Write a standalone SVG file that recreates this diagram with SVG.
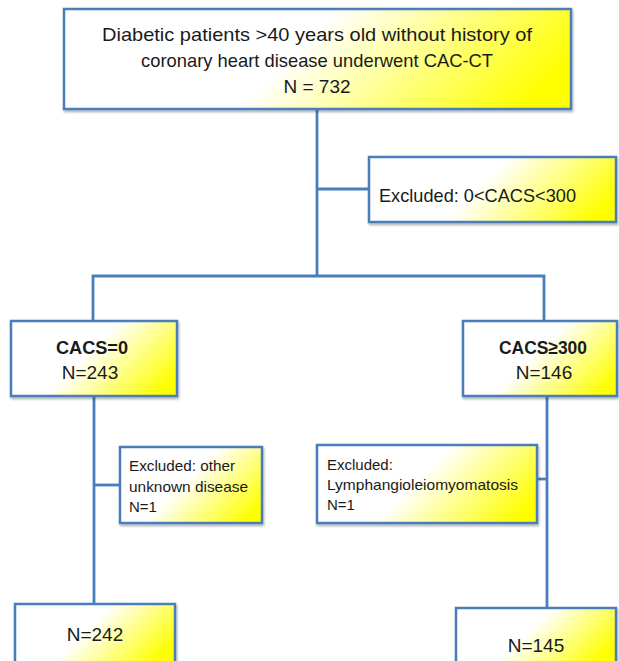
<svg xmlns="http://www.w3.org/2000/svg" xmlns:xlink="http://www.w3.org/1999/xlink" width="619" height="661" viewBox="0 0 619 661">
<style>
.box{stroke:#4a7ebb;stroke-width:2.5;filter:url(#sh)}
.con{stroke:#4a7ebb;stroke-width:2.8;fill:none}
text{font-family:"Liberation Sans",Arial,sans-serif;fill:#1a1a1a}
.m{font-size:19px}
.b{font-size:19px;font-weight:bold}
.s{font-size:15px}
.c{text-anchor:middle}
</style>
<defs>
<filter id="sh" x="-5%" y="-5%" width="115%" height="120%">
<feDropShadow dx="1" dy="2" stdDeviation="1.2" flood-color="#000" flood-opacity="0.3"/>
</filter>
<linearGradient id="gb">
<stop offset="0" stop-color="#ffffff"/>
<stop offset="0.45" stop-color="#ffffff"/>
<stop offset="0.92" stop-color="#ffff00"/>
</linearGradient>
<linearGradient id="g1" xlink:href="#gb" gradientUnits="userSpaceOnUse" x1="64" y1="9" x2="367" y2="312"/>
<linearGradient id="g2" xlink:href="#gb" gradientUnits="userSpaceOnUse" x1="369" y1="157" x2="524" y2="312"/>
<linearGradient id="g3" xlink:href="#gb" gradientUnits="userSpaceOnUse" x1="11" y1="321" x2="131" y2="441"/>
<linearGradient id="g4" xlink:href="#gb" gradientUnits="userSpaceOnUse" x1="463" y1="321" x2="578" y2="436"/>
<linearGradient id="g5" xlink:href="#gb" gradientUnits="userSpaceOnUse" x1="120" y1="447" x2="229" y2="556"/>
<linearGradient id="g6" xlink:href="#gb" gradientUnits="userSpaceOnUse" x1="317" y1="445" x2="466" y2="594"/>
<linearGradient id="g7" xlink:href="#gb" gradientUnits="userSpaceOnUse" x1="15" y1="604" x2="123" y2="712"/>
<linearGradient id="g8" xlink:href="#gb" gradientUnits="userSpaceOnUse" x1="456" y1="608" x2="562" y2="714"/>
</defs>
<g id="connectors">
<path class="con" d="M317 109 V276"/>
<path class="con" d="M317 189 H369"/>
<path class="con" d="M93 321 V276 H544 V321"/>
<path class="con" d="M94 396 V604"/>
<path class="con" d="M94 485 H120"/>
<path class="con" d="M547 396 V608"/>
<path class="con" d="M537 479 H547"/>
</g>
<g id="n-top">
<rect class="box" x="64" y="9" width="507" height="100" fill="url(#g1)"/>
<text class="m c" x="317" y="41" textLength="430" lengthAdjust="spacingAndGlyphs">Diabetic patients &gt;40 years old without history of</text>
<text class="m c" x="317" y="67" textLength="352" lengthAdjust="spacingAndGlyphs">coronary heart disease underwent CAC-CT</text>
<text class="m c" x="317" y="93">N = 732</text>
</g>
<g id="n-excl1">
<rect class="box" x="369" y="157" width="247" height="65" fill="url(#g2)"/>
<text class="m" x="379" y="202" textLength="197" lengthAdjust="spacingAndGlyphs">Excluded: 0&lt;CACS&lt;300</text>
</g>
<g id="n-cacs0">
<rect class="box" x="11" y="321" width="166" height="75" fill="url(#g3)"/>
<text class="b c" x="92" y="354" textLength="72" lengthAdjust="spacingAndGlyphs">CACS=0</text>
<text class="m c" x="90" y="379">N=243</text>
</g>
<g id="n-cacs300">
<rect class="box" x="463" y="321" width="154" height="75" fill="url(#g4)"/>
<text class="b c" x="543" y="354" textLength="88" lengthAdjust="spacingAndGlyphs">CACS≥300</text>
<text class="m c" x="544" y="379">N=146</text>
</g>
<g id="n-excl2">
<rect class="box" x="120" y="447" width="142" height="76" fill="url(#g5)"/>
<text class="s" x="129" y="471" textLength="106" lengthAdjust="spacingAndGlyphs">Excluded: other</text>
<text class="s" x="129" y="492" textLength="119" lengthAdjust="spacingAndGlyphs">unknown disease</text>
<text class="s" x="129" y="512">N=1</text>
</g>
<g id="n-excl3">
<rect class="box" x="317" y="445" width="220" height="78" fill="url(#g6)"/>
<text class="s" x="327" y="470">Excluded:</text>
<text class="s" x="327" y="490" textLength="191" lengthAdjust="spacingAndGlyphs">Lymphangioleiomyomatosis</text>
<text class="s" x="327" y="510">N=1</text>
</g>
<g id="n-final0">
<rect class="box" x="15" y="604" width="160" height="64" fill="url(#g7)"/>
<text class="m c" x="95" y="641">N=242</text>
</g>
<g id="n-final300">
<rect class="box" x="456" y="608" width="160" height="64" fill="url(#g8)"/>
<text class="m c" x="536" y="652">N=145</text>
</g>
</svg>
